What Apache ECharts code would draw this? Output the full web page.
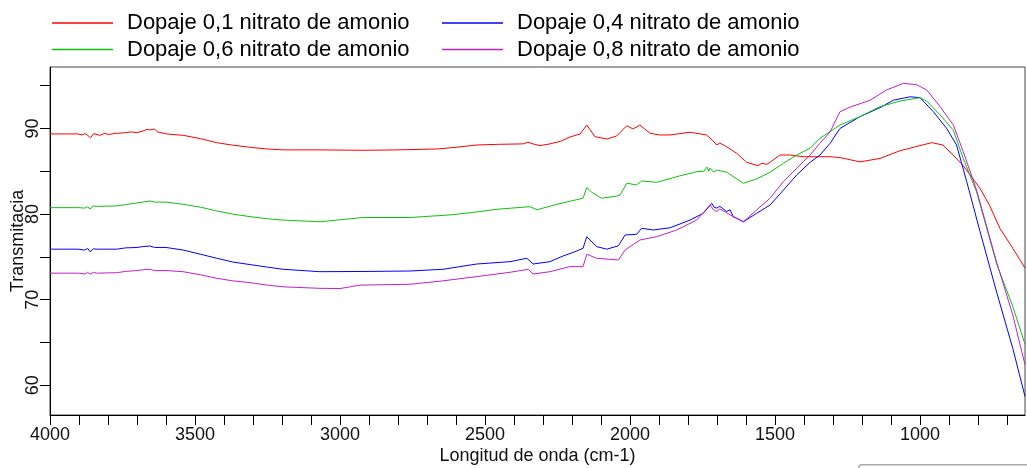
<!DOCTYPE html>
<html>
<head>
<meta charset="utf-8">
<script src="https://cdn.jsdelivr.net/npm/echarts@6/dist/echarts.min.js"></script>
<style>
html,body{margin:0;padding:0;background:#fff;}
#chart{width:1027px;height:468px;}
</style>
</head>
<body>
<div id="chart"></div>
<script>
// Series names
const seriesNames = [
  'Dopaje 0,1 nitrato de amonio',
  'Dopaje 0,4 nitrato de amonio',
  'Dopaje 0,6 nitrato de amonio',
  'Dopaje 0,8 nitrato de amonio'
];

// [wavenumber (cm-1), transmitancia]
const dopaje01 = [
  [4000,89.36],[3903,89.36],[3890,89.25],[3880,89.4],[3870,89.2],[3860,88.9],[3850,89.4],[3845,89.3],[3828,89.2],
  [3810,89.45],[3800,89.3],[3770,89.44],[3740,89.5],[3720,89.6],[3700,89.5],[3680,89.7],[3665,89.9],[3655,89.82],
  [3640,89.95],[3630,89.6],[3598,89.36],[3541,89.2],[3480,88.8],[3425,88.34],
  [3370,88.05],[3310,87.8],[3250,87.6],[3196,87.5],[3069,87.5],[2921,87.45],[2800,87.5],[2666,87.6],
  [2600,87.8],[2528,88.07],[2450,88.15],[2369,88.2],[2352,88.4],[2330,88.15],[2310,88.0],[2276,88.2],
  [2240,88.5],[2207,89.0],[2172,89.36],[2149,90.4],[2121,89.04],[2080,88.77],[2046,89.12],[2011,90.33],
  [1990,89.94],[1966,90.4],[1931,89.44],[1897,89.24],[1862,89.24],[1793,89.56],[1736,89.24],[1715,88.6],
  [1701,88.07],[1690,88.3],[1667,87.87],[1632,87.1],[1598,86.05],[1559,85.65],[1545,85.95],[1530,85.8],[1517,86.05],[1483,86.9],
  [1448,86.9],[1403,86.7],[1310,86.7],[1276,86.6],[1207,86.1],[1138,86.5],[1069,87.4],[1000,88.0],
  [960,88.34],[921,88.07],[886,86.9],[852,85.7],[793,83.0],[760,81.0],[724,78.3],[680,76.0],[638,73.7]
];
const dopaje04 = [
  [4000,75.9],[3903,75.9],[3880,75.8],[3870,76.0],[3862,75.6],[3850,75.95],[3840,75.9],[3770,75.9],[3740,76.05],
  [3700,76.1],[3680,76.2],[3655,76.27],[3640,76.1],[3600,76.1],
  [3541,75.8],[3480,75.3],[3425,74.84],[3370,74.4],[3310,74.1],[3250,73.8],[3196,73.55],[3069,73.27],
  [2900,73.3],[2759,73.35],[2645,73.55],[2528,74.17],[2414,74.44],[2356,74.84],[2334,74.17],[2276,74.44],
  [2231,75.1],[2190,75.6],[2162,76.0],[2149,77.36],[2115,76.2],[2080,75.9],[2040,76.3],[2017,77.56],
  [1977,77.64],[1960,78.34],[1920,78.14],[1862,78.4],[1793,79.3],[1747,80.1],[1718,81.26],[1710,80.8],[1701,80.7],
  [1690,80.9],[1667,80.3],[1655,80.5],[1644,79.7],[1609,79.1],[1563,80.1],[1517,81.06],[1471,82.8],[1425,84.57],[1379,86.05],
  [1345,86.9],[1310,88.27],[1276,90.0],[1207,91.38],[1138,92.43],[1092,93.3],[1034,93.7],[1000,93.6],
  [954,91.96],[908,90.0],[874,88.07],[839,83.8],[793,77.95],[736,70.9],[680,64.3],[638,58.7]
];
const dopaje06 = [
  [4000,80.75],[3903,80.75],[3880,80.7],[3870,80.85],[3862,80.6],[3850,80.95],[3840,80.9],[3770,80.95],[3740,81.1],
  [3700,81.3],[3680,81.4],[3655,81.53],[3640,81.4],[3600,81.4],
  [3541,81.14],[3480,80.8],[3425,80.36],[3370,80.0],[3310,79.7],[3250,79.45],[3196,79.3],[3069,79.1],
  [2921,79.6],[2759,79.6],[2621,79.9],[2540,80.2],[2459,80.56],[2369,80.8],[2345,80.86],[2321,80.5],
  [2252,81.14],[2207,81.5],[2162,81.85],[2149,83.1],[2132,82.55],[2098,81.85],[2046,82.1],[2035,82.2],
  [2011,83.6],[1977,83.4],[1960,83.87],[1908,83.7],[1839,84.37],[1770,84.95],[1745,85.0],[1735,85.5],
  [1728,85.0],[1724,85.4],[1712,84.9],[1701,85.15],
  [1667,84.9],[1609,83.6],[1563,84.1],[1517,84.9],[1471,85.93],[1425,86.9],[1379,87.7],[1345,88.85],
  [1276,90.4],[1207,91.38],[1138,92.55],[1069,93.2],[1000,93.6],[977,93.2],[931,91.6],[885,89.8],
  [851,86.5],[805,82.6],[736,74.2],[680,69.2],[638,64.8]
];
const dopaje08 = [
  [4000,73.1],[3903,73.1],[3880,73.0],[3870,73.2],[3862,72.97],[3850,73.2],[3840,73.1],[3770,73.15],[3740,73.3],
  [3700,73.4],[3680,73.5],[3655,73.55],[3640,73.4],[3600,73.4],
  [3541,73.27],[3480,72.9],[3425,72.5],[3370,72.2],[3310,71.99],[3250,71.7],[3196,71.5],[3069,71.33],
  [3000,71.3],[2931,71.7],[2759,71.8],[2645,72.2],[2528,72.7],[2414,73.2],[2351,73.55],[2334,73.0],
  [2276,73.27],[2207,73.86],[2162,73.86],[2149,75.3],[2115,74.84],[2040,74.64],[2017,75.8],[1966,76.97],
  [1908,77.36],[1839,78.14],[1770,79.3],[1724,81.06],[1712,80.5],[1701,80.3],[1690,80.6],[1644,79.7],[1609,79.1],[1563,80.5],
  [1517,81.85],[1471,83.8],[1425,85.35],[1379,86.9],[1345,88.27],[1310,89.6],[1276,91.96],[1241,92.5],
  [1172,93.3],[1115,94.5],[1057,95.28],[1011,95.1],[977,94.5],[931,92.55],[885,90.4],[851,87.3],
  [805,82.8],[736,74.4],[680,68.2],[638,62.4]
];

const colors = ['#ff0000', '#0000ff', '#10c010', '#c020c8'];
const seriesData = [dopaje01, dopaje04, dopaje06, dopaje08];

// Axis ticks and labels
const xTicks = [4000,3900,3800,3700,3600,3500,3400,3300,3200,3100,3000,2900,2800,2700,2600,2500,2400,2300,2200,2100,2000,1900,1800,1700,1600,1500,1400,1300,1200,1100,1000,900,800,700];
const xLabels = [4000,3500,3000,2500,2000,1500,1000];
const yTicks = [60,65,70,75,80,85,90,95];
const yLabels = [60,70,80,90];

const chart = echarts.init(document.getElementById('chart'), null, {renderer: 'canvas'});
const font = 'Liberation Sans, Arial, sans-serif';

const legendCommon = {
  orient: 'vertical',
  top: 12,
  padding: 0,
  icon: 'rect',
  itemWidth: 61,
  itemHeight: 1.5,
  itemGap: 4.5,
  selectedMode: false,
  textStyle: {fontFamily: font, fontSize: 22, lineHeight: 22, color: '#000', padding: [0,0,0,9]}
};

chart.setOption({
  animation: false,
  backgroundColor: '#fff',
  legend: [
    Object.assign({left: 52, data: [seriesNames[0], seriesNames[2]]}, legendCommon),
    Object.assign({left: 442, data: [seriesNames[1], seriesNames[3]]}, legendCommon)
  ],
  grid: {left: 50, right: 2, top: 67, bottom: 53, show: true, borderColor: '#444', borderWidth: 1,
         containLabel: false, outerBoundsMode: 'none'},
  xAxis: {
    type: 'value', inverse: true, min: 638, max: 4000,
    name: 'Longitud de onda (cm-1)', nameLocation: 'middle', nameGap: 32, nameMoveOverlap: false,
    nameTextStyle: {fontFamily: font, fontSize: 18, color: '#111'},
    axisLine: {lineStyle: {color: '#000', width: 1}},
    axisTick: {show: true, inside: false, length: 10, lineStyle: {color: '#000'}, customValues: xTicks},
    axisLabel: {fontFamily: font, fontSize: 18, color: '#111', margin: 11, customValues: xLabels,
                formatter: v => String(v)},
    splitLine: {show: false}
  },
  yAxis: {
    type: 'value', min: 56.53, max: 97.18,
    name: 'Transmitacia', nameLocation: 'middle', nameGap: 23, nameRotate: 90, nameMoveOverlap: false,
    nameTextStyle: {fontFamily: font, fontSize: 18, color: '#111'},
    axisLine: {show: true, lineStyle: {color: '#000', width: 1}},
    axisTick: {show: true, inside: false, length: 10, lineStyle: {color: '#000'}, customValues: yTicks},
    axisLabel: {fontFamily: font, fontSize: 18, color: '#111', margin: 8, rotate: 90, customValues: yLabels,
                formatter: v => String(v)},
    splitLine: {show: false}
  },
  graphic: [{
    type: 'rect', left: 858, top: 464, shape: {width: 190, height: 20, r: 3},
    style: {fill: '#fff', stroke: '#aaa', lineWidth: 1.5}, z: 100
  }],
  series: seriesNames.map((n, i) => ({
    name: n, type: 'line', data: seriesData[i], showSymbol: false, symbol: 'none',
    lineStyle: {color: colors[i], width: 1}, itemStyle: {color: colors[i]}
  }))
});
</script>
</body>
</html>
